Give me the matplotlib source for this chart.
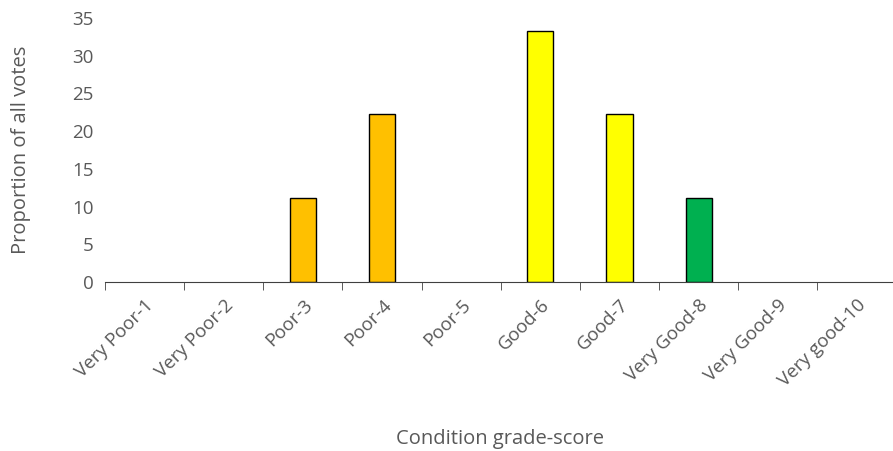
import matplotlib
matplotlib.use("Agg")
import matplotlib.pyplot as plt
import numpy as np

categories = ["Very Poor-1", "Very Poor-2", "Poor-3", "Poor-4", "Poor-5",
              "Good-6", "Good-7", "Very Good-8", "Very Good-9", "Very good-10"]
values = [0, 0, 11.11, 22.22, 0, 33.33, 22.22, 11.11, 0, 0]
bar_colors = ["#FFC000", "#FFC000", "#FFC000", "#FFC000", "#FFC000",
              "#FFFF00", "#FFFF00", "#00B050", "#00B050", "#00B050"]

plt.rcParams['font.family'] = ['Open Sans', 'DejaVu Sans']
grey = "#595959"

fig = plt.figure(figsize=(8.93, 4.51), dpi=100)
ax = fig.add_axes([0.1176, 0.3747, 0.89, 0.5853])

x = np.arange(len(categories))
for xi, v, c in zip(x, values, bar_colors):
    if v > 0:
        ax.bar(xi, v, width=0.33, color=c, edgecolor="black", linewidth=1)

ax.set_xlim(-0.5, len(categories) - 0.5 + 0.04)
ax.set_ylim(0, 35)
ax.set_yticks(range(0, 36, 5))
ax.tick_params(axis="y", length=0, labelsize=13.5, colors=grey, pad=8)

ax.set_xticks(x)
ax.set_xticklabels(categories, rotation=45, ha="right", rotation_mode="anchor",
                   fontsize=13.5, color=grey)
ax.tick_params(axis="x", length=0, pad=10)
ax.set_xticks(np.arange(-0.5, len(categories), 1), minor=True)
ax.tick_params(axis="x", which="minor", length=6, color="#404040", direction="out")

for s in ["top", "right", "left"]:
    ax.spines[s].set_visible(False)
ax.spines["bottom"].set_color("#404040")

ax.set_ylabel("Proportion of all votes", fontsize=14.5, color=grey, labelpad=30)
fig.text(0.56, 0.015, "Condition grade-score", fontsize=14.5, color=grey, ha="center")

plt.savefig("out.png", dpi=100)
